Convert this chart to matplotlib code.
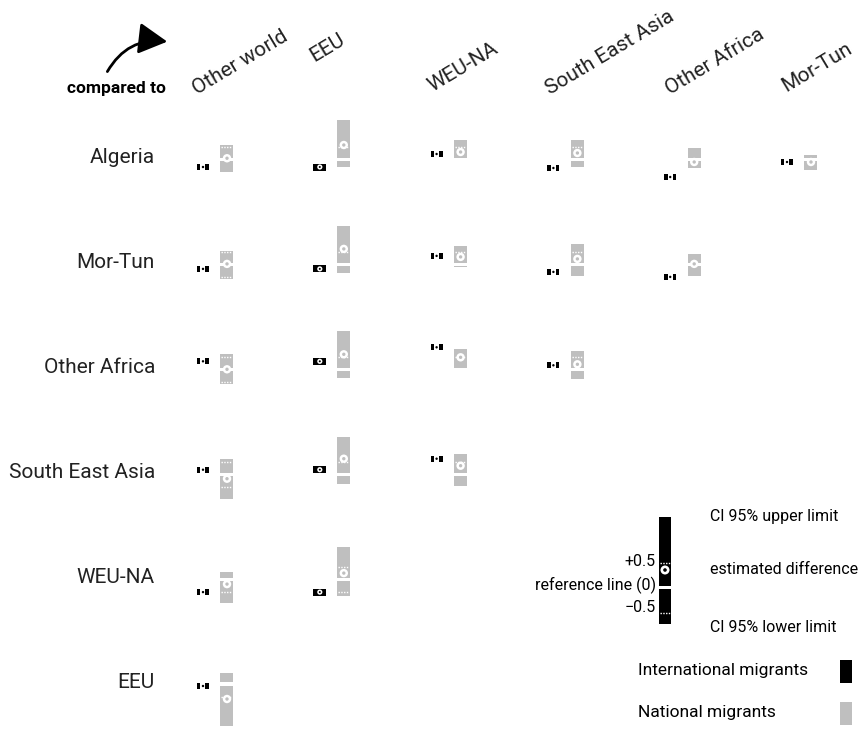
import matplotlib
matplotlib.use("Agg")
import matplotlib.pyplot as plt
from matplotlib.patches import Rectangle, Circle, FancyArrowPatch

plt.rcParams['font.family'] = ['Roboto', 'DejaVu Sans']

regions = ['Algeria', 'Mor-Tun', 'Other Africa', 'South East Asia', 'WEU-NA', 'EEU']
compared = ['Other world', 'EEU', 'WEU-NA', 'South East Asia', 'Other Africa', 'Mor-Tun']

# national migrants: CI lower, estimate, CI upper (one row per region, columns = compared)
nat_lo = [
    [-0.50, -0.30, 0.06, -0.30, -0.34, -0.42],
    [-0.58, -0.34, -0.10, -0.46, -0.46],
    [-0.60, -0.36, -0.05, -0.40],
    [-0.98, -0.38, -0.46],
    [-0.96, -0.68],
    [-1.68],
]
nat_est = [
    [0.05, 0.58, 0.30, 0.26, -0.10, -0.10],
    [0.02, 0.62, 0.30, 0.22, 0.02],
    [0.00, 0.60, 0.48, 0.20],
    [-0.18, 0.62, 0.34],
    [-0.20, 0.24],
    [-0.60],
]
nat_hi = [
    [0.58, 1.58, 0.78, 0.78, 0.46, 0.18],
    [0.54, 1.54, 0.74, 0.82, 0.42],
    [0.60, 1.52, 0.80, 0.72],
    [0.62, 1.50, 0.82],
    [0.28, 1.28],
    [0.44],
]
# international migrants: estimated difference
intl_est = [
    [-0.30, -0.30, 0.22, -0.34, -0.70, -0.10],
    [-0.18, -0.18, 0.34, -0.30, -0.50],
    [0.32, 0.32, 0.88, 0.16],
    [0.18, 0.18, 0.62],
    [-0.52, -0.52],
    [-0.08],
]

# legend example glyph
key_lo, key_est, key_hi = -0.73, 0.35, 1.41

GREY = '#bfbfbf'
S = 25.0          # px per unit in cells
GAP = 1.6         # half gap around reference line (px)
W = 13            # glyph width

fig = plt.figure(figsize=(8.62, 7.31), dpi=100)
ax = fig.add_axes([0, 0, 1, 1])
ax.set_xlim(0, 862)
ax.set_ylim(731, 0)
ax.axis('off')


def glyph(xc, y0, lo, est, hi, scale, color, dotcol, w=W, r=4.2):
    top = y0 - hi * scale
    bot = y0 - lo * scale
    if lo < 0 < hi:
        parts = [(top, y0 - GAP), (y0 + GAP, bot)]
    else:
        parts = [(top, bot)]
    for a, b in parts:
        ax.add_patch(Rectangle((xc - w / 2, a), w, b - a, color=color, lw=0))
        for v in (0.5, -0.5):
            yy = y0 - v * scale
            if a + 0.5 < yy < b - 0.5:
                ax.plot([xc - w / 2 + 1, xc + w / 2 - 1], [yy, yy], color='white',
                        lw=1, ls=(0, (1, 1)))
    ye = y0 - est * scale
    ax.add_patch(Circle((xc, ye), r, color='white', lw=0, zorder=3))
    ax.add_patch(Circle((xc, ye), r * 0.4, color=dotcol, lw=0, zorder=4))


def small_black(xc, yc, solid):
    if solid:
        ax.add_patch(Rectangle((xc - 6.5, yc - 3.5), 13, 7, color='black', lw=0))
        ax.add_patch(Circle((xc, yc), 2.6, color='white', lw=0, zorder=3))
        ax.add_patch(Circle((xc, yc), 1.0, color='black', lw=0, zorder=4))
    else:
        ax.add_patch(Rectangle((xc - 6, yc - 3), 3.5, 6, color='black', lw=0))
        ax.add_patch(Rectangle((xc + 2.5, yc - 3), 3.5, 6, color='black', lw=0))
        ax.add_patch(Circle((xc, yc), 1.2, color='black', lw=0, zorder=4))


col_x = [227 + 116.8 * j for j in range(len(compared))]
row_y = [159.5 + 104.9 * i for i in range(len(regions))]

for i, reg in enumerate(regions):
    ax.text(155, row_y[i] - 2, reg, ha='right', va='center', fontsize=15,
            color='#222222')
    for j in range(len(nat_est[i])):
        glyph(col_x[j], row_y[i], nat_lo[i][j], nat_est[i][j], nat_hi[i][j], S,
              GREY, GREY)
        small_black(col_x[j] - 24, row_y[i] - intl_est[i][j] * S, j == 1)

# column headers
head_pos = [(197, 95), (314, 62), (432, 92), (550, 95), (670, 95), (786, 92)]
for name, (hx, hy) in zip(compared, head_pos):
    ax.text(hx, hy, name, rotation=31, rotation_mode='anchor', ha='left',
            va='baseline', fontsize=15, color='#222222')

ax.text(67, 93, 'compared to', ha='left', va='baseline', fontsize=12.5,
        fontweight='bold')
ax.add_patch(FancyArrowPatch((106, 74), (170, 42), connectionstyle='arc3,rad=-0.35',
                             arrowstyle='-|>,head_length=11,head_width=6',
                             color='black', lw=2, mutation_scale=1.6))

# key
kx, k0 = 665, 587.5
glyph(kx, k0, key_lo, key_est, key_hi, 50, 'black', 'black', w=12, r=4.5)
kfs = 11.5
ax.text(710, 517, 'CI 95% upper limit', ha='left', va='center', fontsize=kfs)
ax.text(710, 569, 'estimated difference', ha='left', va='center', fontsize=kfs)
ax.text(710, 627, 'CI 95% lower limit', ha='left', va='center', fontsize=kfs)
ax.text(656, 561, '+0.5', ha='right', va='center', fontsize=kfs)
ax.text(656, 585, 'reference line (0)', ha='right', va='center', fontsize=11.5)
ax.text(656, 608, '\u22120.5', ha='right', va='center', fontsize=kfs)

ax.text(638, 671, 'International migrants', ha='left', va='center', fontsize=12.5)
ax.add_patch(Rectangle((840, 660), 12, 23, color='black', lw=0))
ax.text(638, 713, 'National migrants', ha='left', va='center', fontsize=12.5)
ax.add_patch(Rectangle((840, 702), 12, 23, color=GREY, lw=0))

fig.savefig('out.png', dpi=100)
